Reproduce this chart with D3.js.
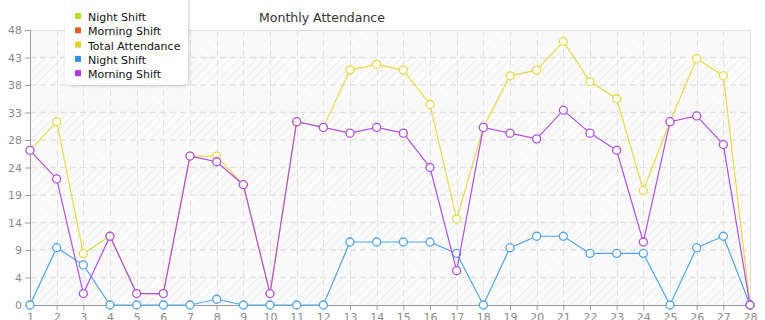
<!DOCTYPE html>
<html>
<head>
<meta charset="utf-8">
<script src="https://cdn.jsdelivr.net/npm/d3@7"></script>
<style>
  body { margin: 0; background: #fff; }
  text { font-family: "DejaVu Sans", sans-serif; }
  .axis text { fill: #8a8a8a; font-size: 11px; }
  .axis path, .axis line { stroke: #9a9a9a; }
</style>
</head>
<body>
<svg id="chart" width="765" height="320"></svg>
<script>

var days = d3.range( 1, 29 );
var yTickValues = [ 0, 4.8, 9.6, 14.4, 19.2, 24, 28.8, 33.6, 38.4, 43.2, 48 ];
var yTickLabels = [ '0', '4', '9', '14', '19', '24', '28', '33', '38', '43', '48' ];

var totalAttendance = [ 27, 32, 9, 12, 2, 2, 26, 26, 21, 2, 32, 31, 41, 42, 41, 35, 15, 31, 40, 41, 46, 39, 36, 20, 32, 43, 40, 0 ];
var nightShift = [ 0, 10, 7, 0, 0, 0, 0, 1, 0, 0, 0, 0, 11, 11, 11, 11, 9, 0, 10, 12, 12, 9, 9, 9, 0, 10, 12, 0 ];
var morningShift = [ 27, 22, 2, 12, 2, 2, 26, 25, 21, 2, 32, 31, 30, 31, 30, 24, 6, 31, 30, 29, 34, 30, 27, 11, 32, 33, 28, 0 ];

var legendNames = [ 'Night Shift', 'Morning Shift', 'Total Attendance', 'Night Shift', 'Morning Shift' ];
var legendColors = [ '#b9dc2c', '#e0622c', '#e2d42e', '#3593e2', '#b136e0' ];

var settings = { left: 30, right: 15, top: 30, bottom: 15, width: 765, height: 320 };

var svg = d3.select('#chart');
var innerW = settings.width - settings.left - settings.right;
var innerH = settings.height - settings.top - settings.bottom;

var scaleX = d3.scaleLinear()
  .domain([ 1, 28 ])
  .range([ 0, innerW ]);

var scaleY = d3.scaleLinear()
  .domain([ 0, 48 ])
  .range([ innerH, 0 ]);

// hatch pattern for the plot background
var defs = svg.append('defs');
var pat = defs.append('pattern')
  .attr('id', 'hatch')
  .attr('width', 6)
  .attr('height', 6)
  .attr('patternUnits', 'userSpaceOnUse')
  .attr('patternTransform', 'rotate(45)');
pat.append('rect').attr('width', 6).attr('height', 6).attr('fill', '#fbfbfb');
pat.append('line')
  .attr('x1', 0).attr('y1', 0).attr('x2', 0).attr('y2', 6)
  .attr('stroke', '#ebebeb').attr('stroke-width', 1.5);

var plot = svg.append('g')
  .attr('transform', 'translate(' + settings.left + ',' + settings.top + ')');

plot.append('rect')
  .attr('width', innerW)
  .attr('height', innerH)
  .attr('fill', 'url(#hatch)');

// alternating bands
plot.selectAll('.band')
  .data( yTickValues.slice( 0, -1 ).filter(function( d, i ) { return i % 2 === 1 }) )
  .enter()
  .append('rect')
  .attr('x', 0)
  .attr('width', innerW)
  .attr('y', function( d ) { return scaleY( d + 4.8 ) })
  .attr('height', scaleY( 0 ) - scaleY( 4.8 ))
  .attr('fill', '#fafafa')
  .attr('opacity', 0.6);

// frame top and right
plot.append('path')
  .attr('d', 'M0,0.5H' + (innerW + 0.5) + 'V' + innerH)
  .attr('fill', 'none')
  .attr('stroke', '#dddddd');

// grid
plot.selectAll('.hgrid')
  .data( yTickValues.slice( 1, -1 ) )
  .enter()
  .append('line')
  .attr('x1', 0).attr('x2', innerW)
  .attr('y1', function( d ) { return scaleY( d ) })
  .attr('y2', function( d ) { return scaleY( d ) })
  .attr('stroke', '#e2e2e2')
  .attr('stroke-width', 1.5)
  .attr('stroke-dasharray', '6,4');

plot.selectAll('.vgrid')
  .data( days.slice( 1, -1 ) )
  .enter()
  .append('line')
  .attr('y1', 0).attr('y2', innerH)
  .attr('x1', function( d ) { return Math.round( scaleX( d ) ) + 0.5 })
  .attr('x2', function( d ) { return Math.round( scaleX( d ) ) + 0.5 })
  .attr('stroke', '#e2e2e2')
  .attr('stroke-dasharray', '6,4');

// axes
var axisY = d3.axisLeft( scaleY )
  .tickValues( yTickValues )
  .tickFormat(function( d, i ) { return yTickLabels[i] })
  .tickSize( 5 )
  .tickPadding( 3 );
var groupY = plot.append('g').classed('axis', true).call( axisY );
groupY.select('.domain').attr('d', 'M0.5,0V' + innerH);

var axisX = d3.axisBottom( scaleX )
  .tickValues( days )
  .tickFormat( d3.format('d') )
  .tickSize( 5 )
  .tickPadding( 3 );
var groupX = plot.append('g').classed('axis', true)
  .attr('transform', 'translate(0,' + innerH + ')')
  .call( axisX );
groupX.select('.domain').attr('d', 'M0,0.5H' + innerW);

// series
var series = [
  { values: totalAttendance, color: '#e6da4a' },
  { values: nightShift, color: '#4fa5e8' },
  { values: morningShift, color: '#b24fe0' }
];

var line = d3.line()
  .x(function( d, i ) { return scaleX( days[i] ) })
  .y(function( d ) { return scaleY( d ) });

series.forEach(function( s ) {
  var g = plot.append('g');
  g.append('path')
    .attr('d', line( s.values ))
    .attr('fill', 'none')
    .attr('stroke', s.color)
    .attr('stroke-width', 1.2);
  g.selectAll('circle')
    .data( s.values )
    .enter()
    .append('circle')
    .attr('cx', function( d, i ) { return scaleX( days[i] ) })
    .attr('cy', function( d ) { return scaleY( d ) })
    .attr('r', 4)
    .attr('fill', '#fff')
    .attr('stroke', s.color)
    .attr('stroke-width', 1.3);
});

// title
svg.append('text')
  .attr('x', 322)
  .attr('y', 22)
  .attr('text-anchor', 'middle')
  .attr('fill', '#333')
  .style('font-size', '12.5px')
  .text('Monthly Attendance');

// legend
var shadow = defs.append('filter').attr('id', 'shadow')
  .attr('x', '-20%').attr('y', '-20%').attr('width', '140%').attr('height', '140%');
shadow.append('feDropShadow')
  .attr('dx', 1).attr('dy', 1).attr('stdDeviation', 1.5)
  .attr('flood-color', '#000').attr('flood-opacity', 0.18);

var legend = svg.append('g').attr('transform', 'translate(65,0)');
legend.append('rect')
  .attr('x', 0).attr('y', -6)
  .attr('width', 123).attr('height', 91)
  .attr('rx', 5)
  .attr('fill', '#fff')
  .attr('filter', 'url(#shadow)');

var items = legend.selectAll('.item')
  .data( legendNames )
  .enter()
  .append('g')
  .attr('transform', function( d, i ) { return 'translate(0,' + ( 17 + i * 14.3 ) + ')' });
items.append('rect')
  .attr('x', 10).attr('y', -4)
  .attr('width', 6).attr('height', 6)
  .attr('fill', function( d, i ) { return legendColors[i] });
items.append('text')
  .attr('x', 23).attr('y', 4)
  .attr('fill', '#111')
  .style('font-size', '11px')
  .text(function( d ) { return d });

</script>
</body>
</html>
